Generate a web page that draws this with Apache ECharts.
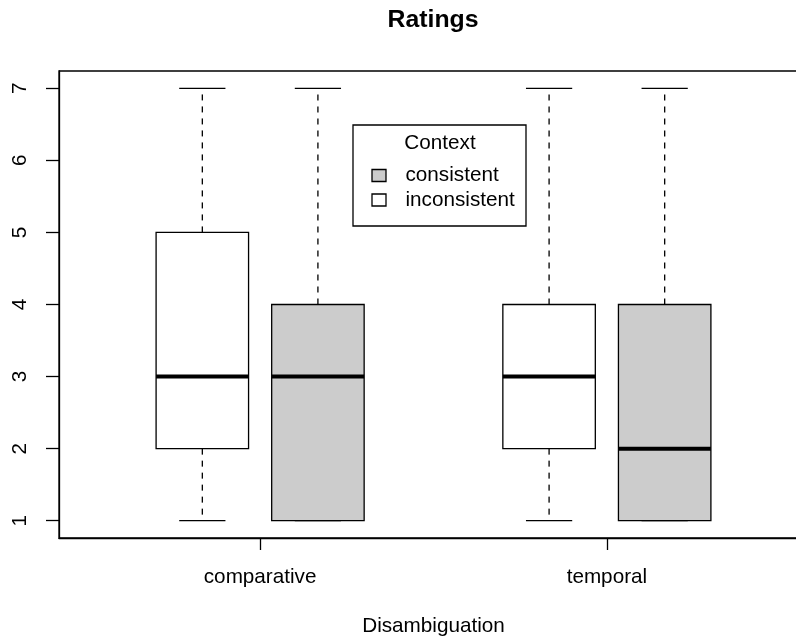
<!DOCTYPE html>
<html>
<head>
<meta charset="utf-8">
<script src="https://cdn.jsdelivr.net/npm/echarts@6/dist/echarts.min.js"></script>
<style>html,body{margin:0;padding:0;background:#fff;}#c{width:796px;height:639px;}</style>
</head>
<body>
<div id="c"></div>
<script>
// ---- data ----
const categories = ['comparative', 'temporal'];
const contexts = ['consistent', 'inconsistent'];
// [min, q1, median, q3, max] per category
const inconsistentStats = [[1, 2, 3, 5, 7], [1, 2, 3, 4, 7]];
const consistentStats = [[1, 1, 3, 4, 7], [1, 1, 2, 4, 7]];
const yTicks = [1, 2, 3, 4, 5, 6, 7];
const titleText = 'Ratings';
const xTitle = 'Disambiguation';
const legendTitle = 'Context';

// ---- build ----
const FONT = '"Liberation Sans", Arial, sans-serif';
const FS = 20.7;
const GRAY = '#cccccc';
const boxes = [];
categories.forEach((c, i) => {
  boxes.push({ value: [i * 3 + 1].concat(inconsistentStats[i]), fill: '#ffffff' });
  boxes.push({ value: [i * 3 + 2].concat(consistentStats[i]), fill: GRAY });
});
const groupCenters = categories.map((c, i) => i * 3 + 1.5);

function renderItem(params, api) {
  const x = api.value(0);
  const mn = api.value(1), q1 = api.value(2), md = api.value(3), q3 = api.value(4), mx = api.value(5);
  const bw = api.size([0.8, 0])[0];
  const sw = api.size([0.4, 0])[0];
  const pMin = api.coord([x, mn]), pQ1 = api.coord([x, q1]), pMd = api.coord([x, md]),
        pQ3 = api.coord([x, q3]), pMax = api.coord([x, mx]);
  const cx = pMin[0];
  const fill = boxes[params.dataIndex].fill;
  const dash = { stroke: '#000', lineWidth: 1.3, lineDash: [6, 6] };
  const solid = { stroke: '#000', lineWidth: 1.3 };
  return {
    type: 'group',
    children: [
      { type: 'line', shape: { x1: cx, y1: pQ3[1], x2: cx, y2: pMax[1] }, style: dash },
      { type: 'line', shape: { x1: cx, y1: pQ1[1], x2: cx, y2: pMin[1] }, style: dash },
      { type: 'line', shape: { x1: cx - sw / 2, y1: pMax[1], x2: cx + sw / 2, y2: pMax[1] }, style: solid },
      { type: 'line', shape: { x1: cx - sw / 2, y1: pMin[1], x2: cx + sw / 2, y2: pMin[1] }, style: solid },
      { type: 'rect', shape: { x: cx - bw / 2, y: pQ3[1], width: bw, height: pQ1[1] - pQ3[1] },
        style: { fill: fill, stroke: '#000', lineWidth: 1.3 } },
      { type: 'line', shape: { x1: cx - bw / 2, y1: pMd[1], x2: cx + bw / 2, y2: pMd[1] },
        style: { stroke: '#000', lineWidth: 4 } }
    ]
  };
}

const legendFills = { consistent: GRAY, inconsistent: '#ffffff' };
const legendEls = [
  { type: 'rect', shape: { x: 353, y: 125, width: 173, height: 101 },
    style: { fill: '#fff', stroke: '#000', lineWidth: 1.3 }, z: 10 },
  { type: 'text', x: 440, y: 143, z: 11,
    style: { text: legendTitle, font: FS + 'px ' + FONT, fill: '#000', textAlign: 'center', textVerticalAlign: 'middle' } }
];
contexts.forEach((c, i) => {
  const yc = 175.5 + i * 24.5;
  legendEls.push({ type: 'rect', shape: { x: 372, y: yc - 6, width: 14, height: 12 },
    style: { fill: legendFills[c], stroke: '#000', lineWidth: 1.3 }, z: 11 });
  legendEls.push({ type: 'text', x: 405.5, y: yc, z: 11,
    style: { text: c, font: FS + 'px ' + FONT, fill: '#000', textAlign: 'left', textVerticalAlign: 'middle' } });
});
legendEls.push({ type: 'text', x: 433, y: 20.5,
  style: { text: titleText, font: 'bold 24.8px ' + FONT, fill: '#000', textAlign: 'center', textVerticalAlign: 'middle' } });

const chart = echarts.init(document.getElementById('c'), null, { renderer: 'canvas' });
chart.setOption({
  animation: false,
  backgroundColor: '#fff',
  grid: { left: 59, top: 71, width: 749, height: 467, outerBoundsMode: 'none', containLabel: false,
    show: true, borderColor: '#000', borderWidth: 1.3, backgroundColor: 'transparent' },
  xAxis: {
    type: 'value', min: -0.24, max: 6.24,
    name: xTitle, nameLocation: 'middle', nameGap: 78,
    nameTextStyle: { fontSize: FS, fontFamily: FONT, color: '#000' },
    axisLine: { show: true, onZero: false, lineStyle: { color: '#000', width: 1.3 } },
    axisTick: { show: true, length: 12, customValues: groupCenters, lineStyle: { color: '#000', width: 1.3 } },
    axisLabel: { customValues: groupCenters, margin: 28.5, fontSize: FS, fontFamily: FONT, color: '#000',
      formatter: v => categories[Math.round((v - 1.5) / 3)] },
    splitLine: { show: false }
  },
  yAxis: {
    type: 'value', min: 0.76, max: 7.24,
    axisLine: { show: true, onZero: false, lineStyle: { color: '#000', width: 1.3 } },
    axisTick: { show: true, length: 13, customValues: yTicks, lineStyle: { color: '#000', width: 1.3 } },
    axisLabel: { customValues: yTicks, rotate: 90, margin: 28, fontSize: FS, fontFamily: FONT, color: '#000' },
    splitLine: { show: false }
  },
  series: [{
    type: 'custom',
    renderItem: renderItem,
    clip: false,
    encode: { x: 0, y: [1, 2, 3, 4, 5] },
    data: boxes.map(b => b.value)
  }],
  graphic: legendEls
});
</script>
</body>
</html>
